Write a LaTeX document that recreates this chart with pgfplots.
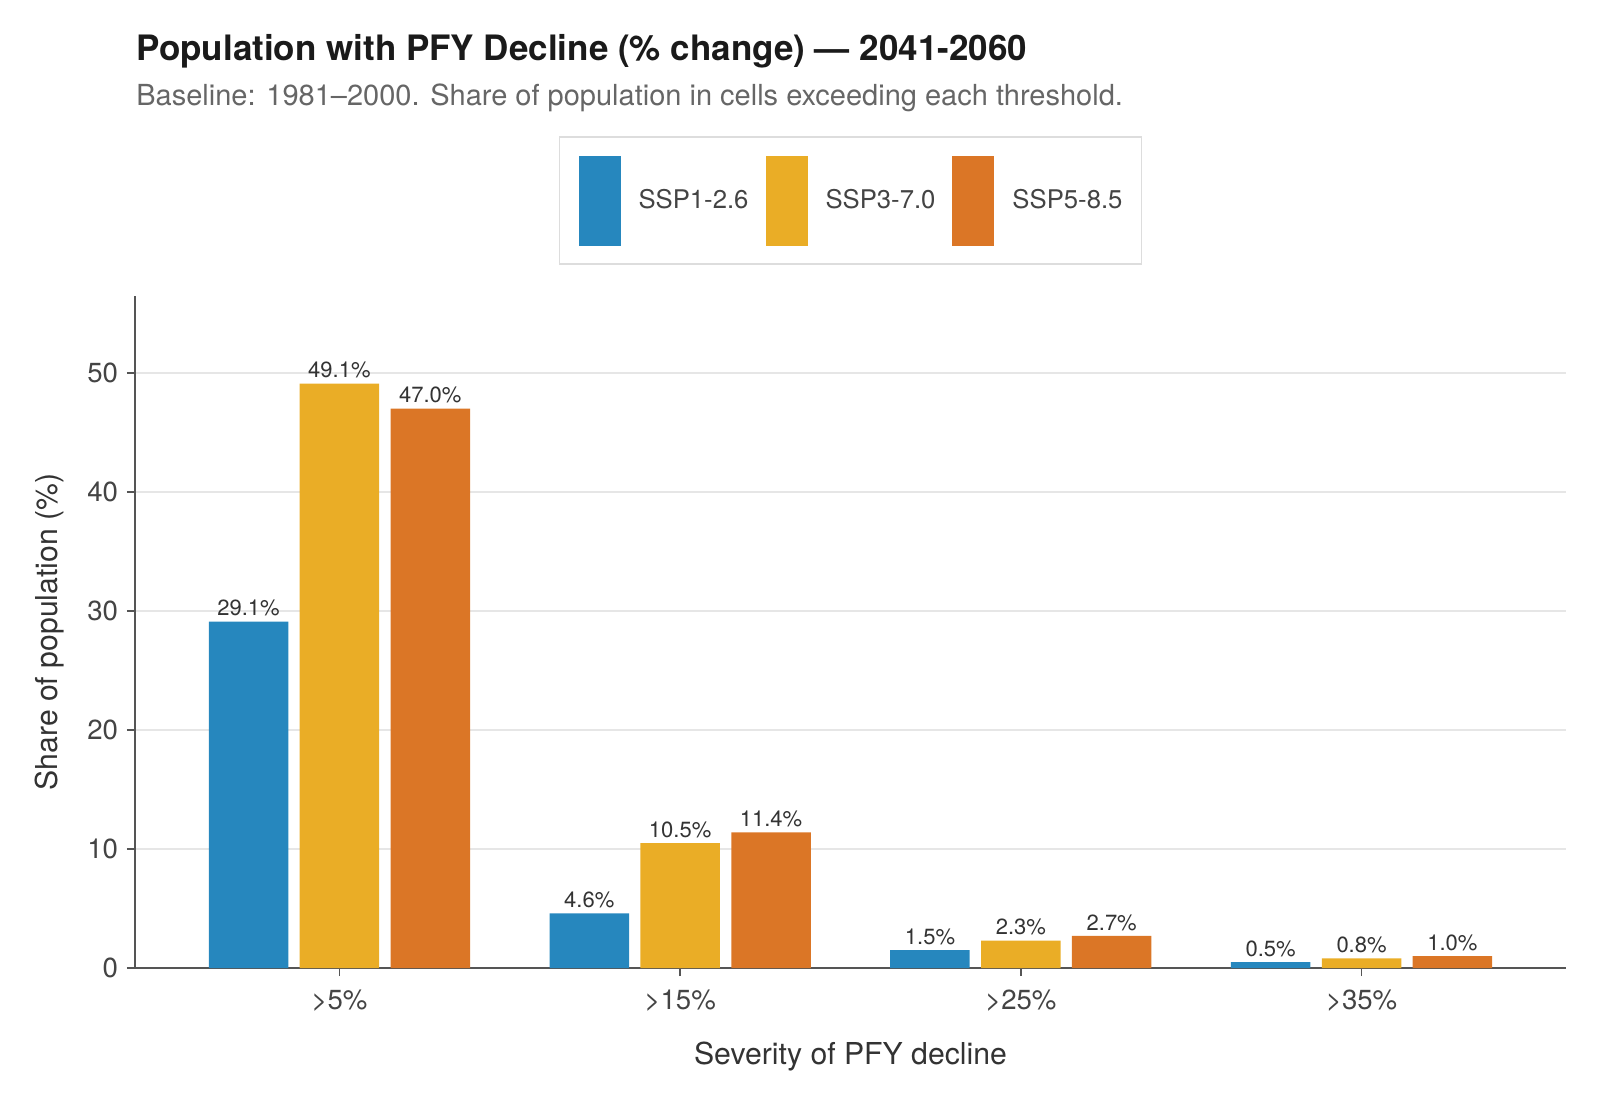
\documentclass[border=0pt]{standalone}
\usepackage{fontspec}
\setmainfont{TeX Gyre Heros}
\usepackage{pgfplots}
\pgfplotsset{compat=1.18}

\definecolor{sspblue}{HTML}{2687BE}
\definecolor{sspyellow}{HTML}{EAAD26}
\definecolor{ssporange}{HTML}{DB7626}
\definecolor{spine}{HTML}{555555}
\definecolor{gridc}{HTML}{E6E6E6}
\definecolor{titletext}{HTML}{1A1A1A}
\definecolor{subtext}{HTML}{666666}
\definecolor{labeltext}{HTML}{333333}
\definecolor{ticktext}{HTML}{444444}
\definecolor{legendframe}{HTML}{DDDDDD}

\begin{document}
\begin{tikzpicture}
% page frame
\path (-67.5bp,-66bp) rectangle (732.5bp,484bp);

\begin{axis}[
  scale only axis,
  at={(0,0)}, anchor=south west,
  width=715.5bp, height=336bp,
  xmin=-0.6, xmax=3.6, ymin=0, ymax=56.465,
  ybar, bar width=0.2333,
  legend image code/.code={\fill[#1] (0bp,-22.5bp) rectangle (21bp,22.5bp);},
  axis lines*=left,
  axis line style={spine, line width=0.8bp},
  tick align=outside,
  major tick length=4bp,
  tick style={spine, line width=0.8bp},
  xtick={0,1,2,3},
  xticklabels={>5\%,>15\%,>25\%,>35\%},
  ytick={0,10,20,30,40,50},
  ymajorgrids,
  grid style={gridc, line width=0.7bp},
  tick label style={font=\fontsize{13.8bp}{16bp}\selectfont, text=ticktext},
  xticklabel style={yshift=-3.3bp},
  yticklabel style={xshift=-1bp},
  /pgf/number format/assume math mode=true,
  xlabel={Severity of PFY decline},
  ylabel={Share of population (\%)},
  label style={font=\fontsize{15.1bp}{18bp}\selectfont, text=labeltext},
  xlabel style={at={([yshift=-48bp]axis description cs:0.5,0)}, anchor=base},
  ylabel style={at={([xshift=-38.5bp]axis description cs:0,0.5)}, anchor=base},
  legend columns=3,
  legend cell align=left,
  legend style={at={(0.5,1.142)}, anchor=center,
    draw=legendframe, line width=0.75bp,
    inner xsep=9.5bp, inner ysep=9.25bp,
    font=\fontsize{12.85bp}{15bp}\selectfont, text=ticktext,
    nodes={inner sep=0pt},
    /tikz/every odd column/.style={column sep=9bp},
    /tikz/every even column/.style={column sep=8.5bp}},
  nodes near coords={\pgfmathprintnumber[fixed,fixed zerofill,precision=1]{\pgfplotspointmeta}\%},
  nodes near coords style={font=\fontsize{11bp}{13bp}\selectfont, text=labeltext,
    anchor=south, inner sep=0pt, yshift=2.5bp},
]
\addplot[bar shift=-0.2667, fill=sspblue, draw=none]
  coordinates {(0,29.1) (1,4.6) (2,1.5) (3,0.5)};
\addlegendentry{SSP1-2.6}
\addplot[bar shift=0, fill=sspyellow, draw=none]
  coordinates {(0,49.1) (1,10.5) (2,2.3) (3,0.8)};
\addlegendentry{SSP3-7.0}
\addplot[bar shift=0.2667, fill=ssporange, draw=none]
  coordinates {(0,47.0) (1,11.4) (2,2.7) (3,1.0)};
\addlegendentry{SSP5-8.5}
\end{axis}

\node[anchor=base west, inner sep=0pt, text=titletext,
  font=\fontsize{17.5bp}{21bp}\selectfont\bfseries]
  at (0.5bp,453.5bp) {Population with PFY Decline (\% change) — 2041-2060};
\node[anchor=base west, inner sep=0pt, text=subtext,
  font=\fontsize{14.5bp}{17bp}\selectfont]
  at (0.5bp,431bp) {Baseline: 1981–2000. Share of population in cells exceeding each threshold.};
\end{tikzpicture}
\end{document}
